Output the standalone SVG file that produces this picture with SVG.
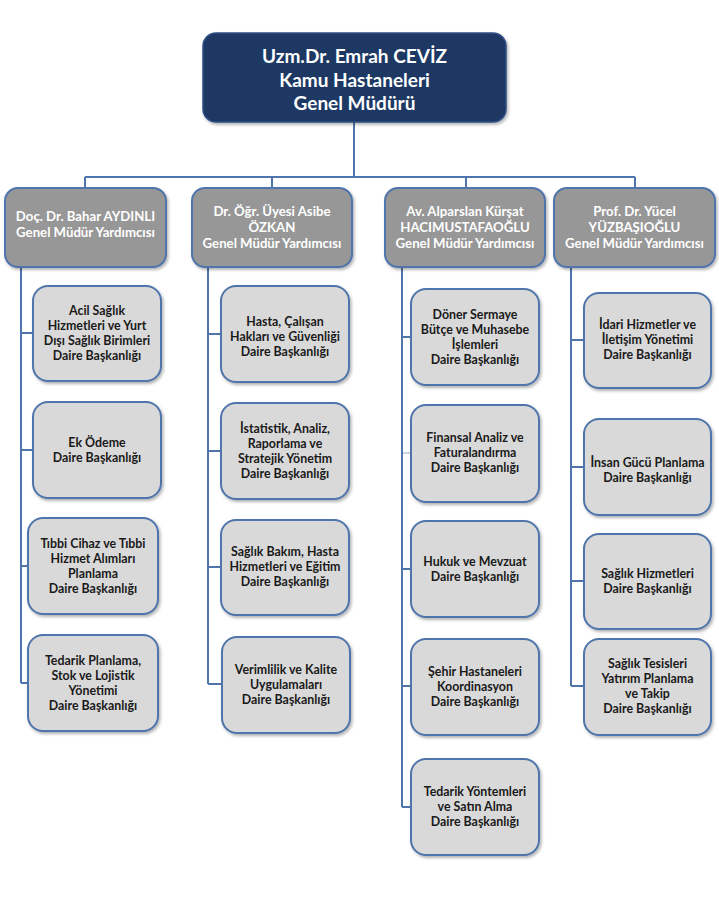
<svg xmlns="http://www.w3.org/2000/svg" width="719" height="902" viewBox="0 0 719 902">
<defs>
<filter id="sh" x="-10%" y="-10%" width="125%" height="130%">
<feDropShadow dx="1.5" dy="2" stdDeviation="1.5" flood-color="#000" flood-opacity="0.3"/>
</filter>
</defs>
<style>
.top{fill:#1F3864;stroke:#2F4F85;stroke-width:1.5}
.hdr{fill:#979797;stroke:#4F74AA;stroke-width:2}
.box{fill:#D9D9D9;stroke:#4F74AA;stroke-width:2}
.ln{stroke:#4F74AA;stroke-width:2;fill:none}
.lnf{stroke:#B3C6E0;stroke-width:1.5;fill:none}
text{font-family:Lato,"Open Sans","Liberation Sans",sans-serif;font-weight:bold;text-anchor:middle}
.tt{font-size:19px;fill:#FFFFFF}
.ht{font-size:13.2px;fill:#FFFFFF}
.bt{font-size:12.4px;fill:#1A1A1A}
</style>
<rect width="719" height="902" fill="#FFFFFF"/>
<g id="connectors">
<path class="ln" d="M354 122V177M85 177H635M85 177V188M272 177V188M466 177V188M635 177V188"/>
<path class="ln" d="M21 267V683M21 333H33M21 450H33M21 566H28M21 683H28"/>
<path class="ln" d="M208 267V684M208 334H221M208 451H221M208 567H221M208 684H222"/>
<path class="ln" d="M402 267V807M402 337H411M402 569H411M402 686H411M402 807H411"/>
<path class="lnf" d="M403 453H411"/>
<path class="ln" d="M571 267V686M571 340H584M571 467H584M571 581H584M571 686H584"/>
</g>
<g id="gm">
<rect class="top" x="203" y="33" width="303" height="89" rx="13" filter="url(#sh)"/>
<text class="tt" x="354.5" y="62.5">Uzm.Dr. Emrah CEVİZ</text>
<text class="tt" x="354.5" y="86.5">Kamu Hastaneleri</text>
<text class="tt" x="354.5" y="109.5">Genel Müdürü</text>
</g>
<g id="h1">
<rect class="hdr" x="5" y="188" width="161" height="79" rx="13" filter="url(#sh)"/>
<text class="ht" x="85.5" y="220.5">Doç. Dr. Bahar AYDINLI</text>
<text class="ht" x="85.5" y="236.5">Genel Müdür Yardımcısı</text>
</g>
<g id="h2">
<rect class="hdr" x="192" y="188" width="160" height="79" rx="13" filter="url(#sh)"/>
<text class="ht" x="272" y="216">Dr. Öğr. Üyesi Asibe</text>
<text class="ht" x="272" y="232">ÖZKAN</text>
<text class="ht" x="272" y="248">Genel Müdür Yardımcısı</text>
</g>
<g id="h3">
<rect class="hdr" x="385" y="188" width="160" height="79" rx="13" filter="url(#sh)"/>
<text class="ht" x="465" y="216">Av. Alparslan Kürşat</text>
<text class="ht" x="465" y="232">HACIMUSTAFAOĞLU</text>
<text class="ht" x="465" y="248">Genel Müdür Yardımcısı</text>
</g>
<g id="h4">
<rect class="hdr" x="554" y="188" width="161" height="79" rx="13" filter="url(#sh)"/>
<text class="ht" x="634.5" y="216">Prof. Dr. Yücel</text>
<text class="ht" x="634.5" y="232">YÜZBAŞIOĞLU</text>
<text class="ht" x="634.5" y="248">Genel Müdür Yardımcısı</text>
</g>
<g id="c1b1">
<rect class="box" x="33" y="286" width="128" height="95" rx="15" filter="url(#sh)"/>
<text class="bt" x="97" y="315">Acil Sağlık</text>
<text class="bt" x="97" y="330">Hizmetleri ve Yurt</text>
<text class="bt" x="97" y="345">Dışı Sağlık Birimleri</text>
<text class="bt" x="97" y="360">Daire Başkanlığı</text>
</g>
<g id="c1b2">
<rect class="box" x="33" y="402" width="128" height="96" rx="15" filter="url(#sh)"/>
<text class="bt" x="97" y="446.5">Ek Ödeme</text>
<text class="bt" x="97" y="461.5">Daire Başkanlığı</text>
</g>
<g id="c1b3">
<rect class="box" x="28" y="518" width="130" height="96" rx="15" filter="url(#sh)"/>
<text class="bt" x="93" y="547.5">Tıbbi Cihaz ve Tıbbi</text>
<text class="bt" x="93" y="562.5">Hizmet Alımları</text>
<text class="bt" x="93" y="577.5">Planlama</text>
<text class="bt" x="93" y="592.5">Daire Başkanlığı</text>
</g>
<g id="c1b4">
<rect class="box" x="28" y="635" width="130" height="96" rx="15" filter="url(#sh)"/>
<text class="bt" x="93" y="664.5">Tedarik Planlama,</text>
<text class="bt" x="93" y="679.5">Stok ve Lojistik</text>
<text class="bt" x="93" y="694.5">Yönetimi</text>
<text class="bt" x="93" y="709.5">Daire Başkanlığı</text>
</g>
<g id="c2b1">
<rect class="box" x="221" y="286" width="128" height="96" rx="15" filter="url(#sh)"/>
<text class="bt" x="285" y="326">Hasta, Çalışan</text>
<text class="bt" x="285" y="341">Hakları ve Güvenliği</text>
<text class="bt" x="285" y="356">Daire Başkanlığı</text>
</g>
<g id="c2b2">
<rect class="box" x="221" y="403" width="128" height="96" rx="15" filter="url(#sh)"/>
<text class="bt" x="285" y="432.5">İstatistik, Analiz,</text>
<text class="bt" x="285" y="447.5">Raporlama ve</text>
<text class="bt" x="285" y="462.5">Stratejik Yönetim</text>
<text class="bt" x="285" y="477.5">Daire Başkanlığı</text>
</g>
<g id="c2b3">
<rect class="box" x="221" y="520" width="128" height="95" rx="15" filter="url(#sh)"/>
<text class="bt" x="285" y="556">Sağlık Bakım, Hasta</text>
<text class="bt" x="285" y="571">Hizmetleri ve Eğitim</text>
<text class="bt" x="285" y="586">Daire Başkanlığı</text>
</g>
<g id="c2b4">
<rect class="box" x="222" y="637" width="128" height="96" rx="15" filter="url(#sh)"/>
<text class="bt" x="286" y="674">Verimlilik ve Kalite</text>
<text class="bt" x="286" y="689">Uygulamaları</text>
<text class="bt" x="286" y="704">Daire Başkanlığı</text>
</g>
<g id="c3b1">
<rect class="box" x="411" y="289" width="128" height="96" rx="15" filter="url(#sh)"/>
<text class="bt" x="475" y="318.5">Döner Sermaye</text>
<text class="bt" x="475" y="333.5">Bütçe ve Muhasebe</text>
<text class="bt" x="475" y="348.5">İşlemleri</text>
<text class="bt" x="475" y="363.5">Daire Başkanlığı</text>
</g>
<g id="c3b2">
<rect class="box" x="411" y="405" width="128" height="97" rx="15" filter="url(#sh)"/>
<text class="bt" x="475" y="442">Finansal Analiz ve</text>
<text class="bt" x="475" y="457">Faturalandırma</text>
<text class="bt" x="475" y="472">Daire Başkanlığı</text>
</g>
<g id="c3b3">
<rect class="box" x="411" y="521" width="128" height="96" rx="15" filter="url(#sh)"/>
<text class="bt" x="475" y="565.5">Hukuk ve Mevzuat</text>
<text class="bt" x="475" y="580.5">Daire Başkanlığı</text>
</g>
<g id="c3b4">
<rect class="box" x="411" y="639" width="128" height="96" rx="15" filter="url(#sh)"/>
<text class="bt" x="475" y="676">Şehir Hastaneleri</text>
<text class="bt" x="475" y="691">Koordinasyon</text>
<text class="bt" x="475" y="706">Daire Başkanlığı</text>
</g>
<g id="c3b5">
<rect class="box" x="411" y="759" width="128" height="96" rx="15" filter="url(#sh)"/>
<text class="bt" x="475" y="796">Tedarik Yöntemleri</text>
<text class="bt" x="475" y="811">ve Satın Alma</text>
<text class="bt" x="475" y="826">Daire Başkanlığı</text>
</g>
<g id="c4b1">
<rect class="box" x="584" y="293" width="127" height="95" rx="15" filter="url(#sh)"/>
<text class="bt" x="647.5" y="329">İdari Hizmetler ve</text>
<text class="bt" x="647.5" y="344">İletişim Yönetimi</text>
<text class="bt" x="647.5" y="359">Daire Başkanlığı</text>
</g>
<g id="c4b2">
<rect class="box" x="584" y="419" width="127" height="96" rx="15" filter="url(#sh)"/>
<text class="bt" x="647.5" y="467">İnsan Gücü Planlama</text>
<text class="bt" x="647.5" y="482">Daire Başkanlığı</text>
</g>
<g id="c4b3">
<rect class="box" x="584" y="534" width="127" height="95" rx="15" filter="url(#sh)"/>
<text class="bt" x="647.5" y="578">Sağlık Hizmetleri</text>
<text class="bt" x="647.5" y="593">Daire Başkanlığı</text>
</g>
<g id="c4b4">
<rect class="box" x="584" y="639" width="127" height="96" rx="15" filter="url(#sh)"/>
<text class="bt" x="647.5" y="667.5">Sağlık Tesisleri</text>
<text class="bt" x="647.5" y="682.5">Yatırım Planlama</text>
<text class="bt" x="647.5" y="697.5">ve Takip</text>
<text class="bt" x="647.5" y="712.5">Daire Başkanlığı</text>
</g>
</svg>
